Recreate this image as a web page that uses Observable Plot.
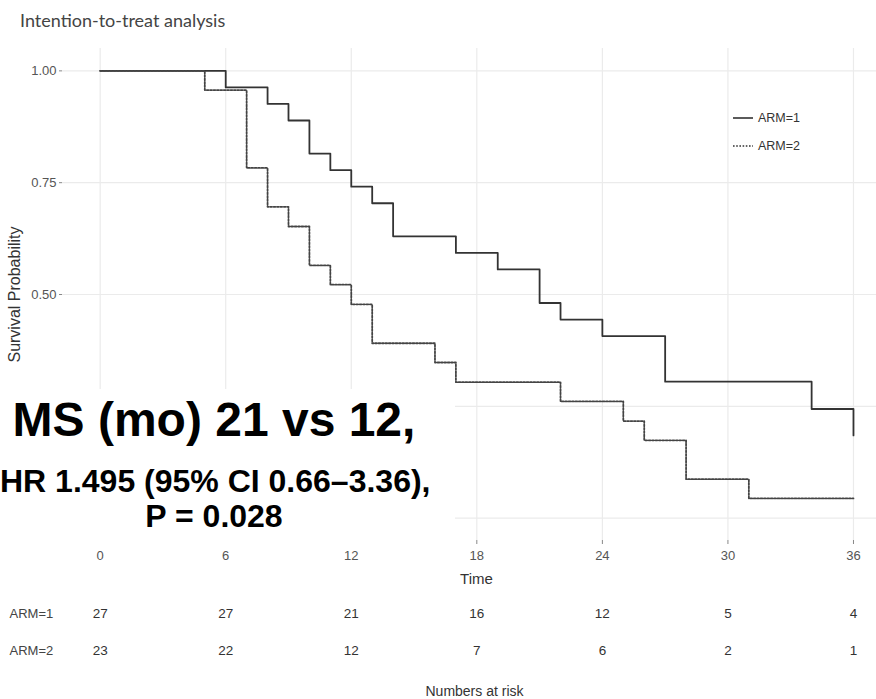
<!DOCTYPE html>
<html>
<head>
<meta charset="utf-8">
<script src="https://cdn.jsdelivr.net/npm/d3@7"></script>
<script src="https://cdn.jsdelivr.net/npm/@observablehq/plot@0.6"></script>
<style>
  html, body { margin: 0; padding: 0; background: #fff; }
  #wrap { position: relative; width: 876px; height: 699px; overflow: hidden; background: #fff; }
  #title { position: absolute; left: 20px; top: 11px; font-family: Lato, "Open Sans", sans-serif; font-size: 18px; line-height: 18px; color: #444; }
  #legend { position: absolute; left: 733px; top: 104px; font-family: "Liberation Sans", Arial, sans-serif; font-size: 12.5px; color: #333; }
  #legend .row { height: 28px; display: flex; align-items: center; }
  #legend svg { margin-right: 5px; }
  #box { position: absolute; left: 0; top: 389px; width: 455px; height: 156px; background: #fff;
         font-family: "Liberation Sans", Arial, sans-serif; font-weight: bold; color: #000; }
  #box div { position: absolute; left: 0; width: 428px; text-align: center; line-height: 1; white-space: nowrap; }
  #chartA { position: absolute; left: 0; top: 0; }
  #chartB { position: absolute; left: 0; top: 590px; }
</style>
</head>
<body>
<div id="wrap">
  <div id="chartA"></div>
  <div id="chartB"></div>
  <div id="title">Intention-to-treat analysis</div>
  <div id="legend"></div>
  <div id="box"></div>
</div>
<script>
// ---- Data ----
const arms = ["ARM=1", "ARM=2"];
const arm1Time = [0, 6, 8, 9, 10, 11, 12, 13, 14, 17, 19, 21, 22, 24, 27, 34, 36];
const arm1Surv = [1, 0.963, 0.926, 0.889, 0.815, 0.778, 0.741, 0.704, 0.630, 0.593, 0.556, 0.481, 0.444, 0.407, 0.305, 0.244, 0.185];
const arm2Time = [0, 5, 7, 8, 9, 10, 11, 12, 13, 16, 17, 22, 25, 26, 28, 31, 36];
const arm2Surv = [1, 0.957, 0.783, 0.696, 0.652, 0.565, 0.522, 0.478, 0.391, 0.348, 0.304, 0.261, 0.217, 0.174, 0.087, 0.044, 0.044];
const xTicks = [0, 6, 12, 18, 24, 30, 36];
const yGrid = [0, 0.25, 0.5, 0.75, 1];
const yTicks = [0.5, 0.75, 1];          // 0.25 and 0.00 labels are hidden behind the annotation box
const yTickLabels = ["0.50", "0.75", "1.00"];
const risk1 = [27, 27, 21, 16, 12, 5, 4];
const risk2 = [23, 22, 12, 7, 6, 2, 1];
const statLines = ["MS (mo) 21 vs 12,", "HR 1.495 (95% CI 0.66\u20133.36),", "P = 0.028"];

// ---- Build tables ----
const km1 = arm1Time.map((t, i) => ({time: t, surv: arm1Surv[i], arm: arms[0]}));
const km2 = arm2Time.map((t, i) => ({time: t, surv: arm2Surv[i], arm: arms[1]}));
const riskRows = [
  ...xTicks.map((t, i) => ({time: t, arm: arms[0], n: risk1[i]})),
  ...xTicks.map((t, i) => ({time: t, arm: arms[1], n: risk2[i]}))
];

const sans = '"Liberation Sans", Arial, sans-serif';
const xDomain = [-1.8, 37.1];
const gridColor = "#ebebeb";

// ---- Main KM plot ----
const chartA = Plot.plot({
  width: 876, height: 590,
  marginLeft: 62, marginRight: 0, marginTop: 48, marginBottom: 50,
  x: {domain: xDomain},
  y: {domain: [-0.05, 1.05]},
  style: {fontFamily: sans, background: "transparent", overflow: "visible"},
  marks: [
    Plot.gridX(xTicks, {stroke: gridColor, strokeOpacity: 1, strokeWidth: 1.2}),
    Plot.gridY(yGrid, {stroke: gridColor, strokeOpacity: 1, strokeWidth: 1.2}),
    Plot.axisY(yTicks, {tickFormat: d => yTickLabels[yTicks.indexOf(d)], tickSize: 3, tickPadding: 3,
      fontSize: 13, fill: "#555", stroke: "#888", label: null}),
    Plot.axisX(xTicks, {tickSize: 4, tickPadding: 6, fontSize: 13, fill: "#555", stroke: "#888", label: null}),
    Plot.text(["Survival Probability"], {frameAnchor: "left", textAnchor: "middle", lineAnchor: "middle",
      rotate: -90, dx: -48, fontSize: 16, fill: "#333"}),
    Plot.text(["Time"], {frameAnchor: "bottom", lineAnchor: "middle", dy: 39, dx: 7, fontSize: 15, fill: "#333"}),
    Plot.line(km1, {x: "time", y: "surv", curve: "step-after", stroke: "#333", strokeWidth: 1.8}),
    Plot.line(km2, {x: "time", y: "surv", curve: "step-after", stroke: "#444", strokeWidth: 1.8,
      strokeDasharray: "1.8,1.6"})
  ]
});
document.getElementById("chartA").append(chartA);

// ---- Risk table ----
const chartB = Plot.plot({
  width: 876, height: 109,
  marginLeft: 62, marginRight: 0, marginTop: 23, marginBottom: 49,
  x: {domain: xDomain, axis: null},
  y: {type: "point", domain: arms, padding: 0, axis: null},
  style: {fontFamily: sans, background: "transparent", overflow: "visible"},
  marks: [
    Plot.text(riskRows, {x: "time", y: "arm", text: "n", fontSize: 13.5, fill: "#333"}),
    Plot.text(arms, {y: d => d, frameAnchor: "left", textAnchor: "start", dx: -53, fontSize: 13, fill: "#444"}),
    Plot.text(["Numbers at risk"], {frameAnchor: "bottom", lineAnchor: "middle", dy: 41, dx: 5, fontSize: 14, fill: "#333"})
  ]
});
document.getElementById("chartB").append(chartB);

// ---- Legend ----
const legend = document.getElementById("legend");
arms.forEach((a, i) => {
  const row = document.createElement("div");
  row.className = "row";
  row.innerHTML = `<svg width="20" height="6"><line x1="0" x2="20" y1="3" y2="3" stroke="#333" stroke-width="1.6" ${i === 1 ? 'stroke-dasharray="1.6,1.6"' : ''}/></svg><span>${a}</span>`;
  legend.append(row);
});

// ---- Statistic annotation box ----
const box = document.getElementById("box");
const sizes = [48, 32, 32];
const tops = [7, 76, 111];
statLines.forEach((s, i) => {
  const d = document.createElement("div");
  d.textContent = s;
  d.style.fontSize = sizes[i] + "px";
  d.style.top = tops[i] + "px";
  box.append(d);
});
</script>
</body>
</html>
